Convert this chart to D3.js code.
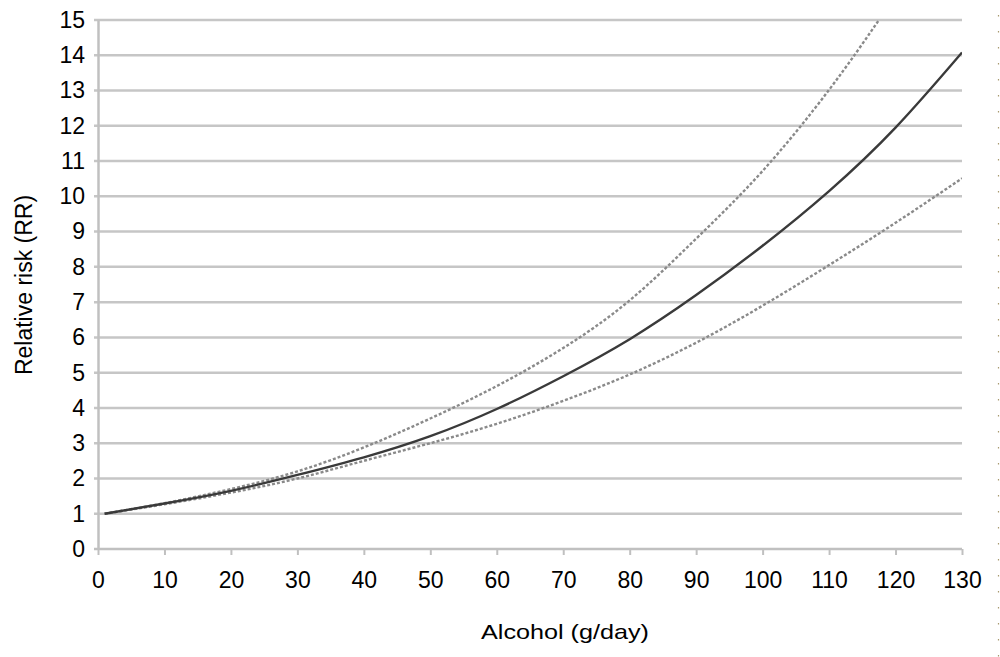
<!DOCTYPE html>
<html>
<head>
<meta charset="utf-8">
<script src="https://cdn.jsdelivr.net/npm/d3@7"></script>
<style>
  body { margin: 0; background: #fff; }
  svg text { font-family: "Liberation Sans", Arial, sans-serif; fill: #000; }
</style>
</head>
<body>
<div class="chart"></div>
<script>
// values
var alcohol = [1, 10, 20, 30, 40, 50, 60, 70, 80, 90, 100, 110, 120, 130];
var rrMain  = [1.0, 1.29, 1.65, 2.1, 2.6, 3.2, 3.97, 4.9, 5.95, 7.2, 8.6, 10.15, 11.95, 14.08];
var rrLower = [1.0, 1.27, 1.6, 2.0, 2.5, 3.0, 3.55, 4.2, 4.95, 5.85, 6.9, 8.05, 9.25, 10.51];
var upperX  = [1, 10, 20, 30, 40, 50, 60, 70, 80, 90, 100, 110, 117.5];
var rrUpper = [1.0, 1.3, 1.7, 2.2, 2.88, 3.7, 4.62, 5.7, 7.05, 8.8, 10.72, 13.02, 15.0];
var xTicks = d3.range(0, 131, 10);
var yTicks = d3.range(0, 16, 1);

var width = 1000,
    height = 657,
    margin = {top: 20, right: 38, bottom: 108, left: 98};

var svg = d3.select(".chart").append("svg")
    .attr("width", width)
    .attr("height", height);

var x = d3.scaleLinear().domain([0, 130]).range([margin.left, width - margin.right]);
var y = d3.scaleLinear().domain([0, 15]).range([height - margin.bottom, margin.top]);

// grid lines
svg.append("g")
  .selectAll("line")
  .data(yTicks.filter(function(d) { return d > 0; }))
  .enter().append("line")
    .attr("x1", x(0) - 4)
    .attr("x2", x(130))
    .attr("y1", function(d) { return y(d); })
    .attr("y2", function(d) { return y(d); })
    .attr("stroke", "#c6c6c6")
    .attr("stroke-width", 2.5);

// x axis
var xAxis = svg.append("g")
    .attr("transform", "translate(0," + y(0) + ")")
    .call(d3.axisBottom(x).tickValues(xTicks).tickSize(6).tickPadding(17));
xAxis.select(".domain").attr("stroke", "#c0c0c0").attr("stroke-width", 2.5)
    .attr("d", "M" + (x(0) - 4) + ",0H" + x(130));
xAxis.selectAll(".tick line").attr("stroke", "#c0c0c0").attr("stroke-width", 2);
xAxis.selectAll(".tick text").attr("font-size", 23).style("font-family", "Liberation Sans, Arial, sans-serif");

// y axis
var yAxis = svg.append("g")
    .attr("transform", "translate(" + x(0) + ",0)")
    .call(d3.axisLeft(y).tickValues(yTicks).tickSize(0).tickPadding(13));
yAxis.select(".domain").attr("stroke", "#c0c0c0").attr("stroke-width", 2.5);
yAxis.selectAll(".tick text").attr("font-size", 23).style("font-family", "Liberation Sans, Arial, sans-serif");

// curves
svg.append("clipPath").attr("id", "plot")
  .append("rect")
    .attr("x", x(0)).attr("y", y(15))
    .attr("width", x(130) - x(0)).attr("height", y(0) - y(15));

var line = d3.line()
    .x(function(d) { return x(d[0]); })
    .y(function(d) { return y(d[1]); })
    .curve(d3.curveNatural);

var curves = svg.append("g").attr("clip-path", "url(#plot)");

curves.append("path")
    .datum(d3.zip(upperX, rrUpper))
    .attr("d", line)
    .attr("fill", "none")
    .attr("stroke", "#8a8a8a")
    .attr("stroke-width", 2.4)
    .attr("stroke-dasharray", "3,2");

curves.append("path")
    .datum(d3.zip(alcohol, rrLower))
    .attr("d", line)
    .attr("fill", "none")
    .attr("stroke", "#8a8a8a")
    .attr("stroke-width", 2.4)
    .attr("stroke-dasharray", "3,2");

curves.append("path")
    .datum(d3.zip(alcohol, rrMain))
    .attr("d", line)
    .attr("fill", "none")
    .attr("stroke", "#3a3a3a")
    .attr("stroke-width", 2.4);

// axis titles
svg.append("text")
    .attr("x", 565)
    .attr("y", 639)
    .attr("text-anchor", "middle")
    .attr("font-size", 21)
    .attr("textLength", 168)
    .attr("lengthAdjust", "spacingAndGlyphs")
    .text("Alcohol (g/day)");

svg.append("text")
    .attr("transform", "translate(32,285) rotate(-90)")
    .attr("text-anchor", "middle")
    .attr("font-size", 23)
    .text("Relative risk (RR)");

// dotted edge at the right
svg.append("line")
    .attr("x1", 998.5).attr("x2", 998.5)
    .attr("y1", 15).attr("y2", height)
    .attr("stroke", "#a89a70")
    .attr("stroke-width", 1.2)
    .attr("stroke-dasharray", "1.5,14.5");
</script>
</body>
</html>
